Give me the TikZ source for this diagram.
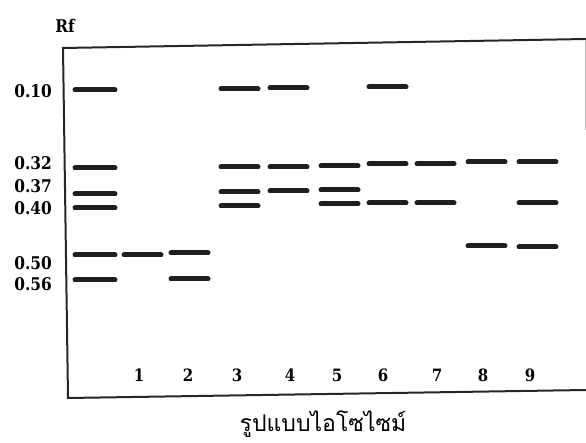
\documentclass[tikz,border=0pt]{standalone}
\usepackage{fontspec}
\setmainfont{DejaVu Serif}
\newfontfamily\axisfont[FakeStretch=0.88]{DejaVu Serif}
\newfontfamily\thaifont[Script=Thai]{Loma}
\begin{document}
\begin{tikzpicture}[x=1pt,y=-1pt,
  frame/.style={line width=2pt,black!85},
  band/.style={line width=5pt,line cap=round,black!88},
  labelfont/.style={font=\axisfont\fontsize{#1}{#1}\selectfont\bfseries},
  rflabel/.style={anchor=east,inner sep=0pt,labelfont=17.5},
  lanelabel/.style={inner sep=0pt,labelfont=17},
]
\useasboundingbox (0,0) rectangle (586,443);

% frame of the plate
\coordinate (tl) at (63,48);
\coordinate (tr) at (586,39);
\coordinate (bl) at (68,398);
\coordinate (br) at (586,390);
\draw[frame] (tr) -- (tl) -- (bl) -- (br);
\draw[line width=0.5pt,black!25] (585,40) -- (585,130);

% axis title
\node[inner sep=0pt,labelfont=17.5] (rf) at (65,26) {Rf};

% Rf values
\node[rflabel] (r10) at (52,91)  {0.10};
\node[rflabel] (r32) at (52,163) {0.32};
\node[rflabel] (r37) at (52,186) {0.37};
\node[rflabel] (r40) at (52,208) {0.40};
\node[rflabel] (r50) at (52,263) {0.50};
\node[rflabel] (r56) at (52,284) {0.56};

% bands: left end / right end / list of y positions
\foreach \xa/\xb/\ys in {
   75/115/{90,168,194,208,255,280},
  124/161/{255},
  171/208/{253,279},
  221/258/{89,167,192,206},
  270/307/{88,167,191},
  321/358/{166,190,204},
  369/406/{87,164,203},
  417/454/{164,203},
  468/505/{162,246},
  519/556/{162,203,247}}{
  \foreach \y in \ys {
    \draw[band] (\xa,\y) -- (\xb,\y);
  }
}

% lane numbers
\foreach \n/\x in {1/139,2/188,3/237,4/290,5/337,6/383,7/437,8/483,9/530}{
  \node[lanelabel] (lane\n) at (\x,375) {\n};
}

% caption
\node[inner sep=0pt,font=\thaifont\fontsize{23}{23}\selectfont] (cap) at (323,424) {รูปแบบไอโซไซม์};
\end{tikzpicture}
\end{document}
